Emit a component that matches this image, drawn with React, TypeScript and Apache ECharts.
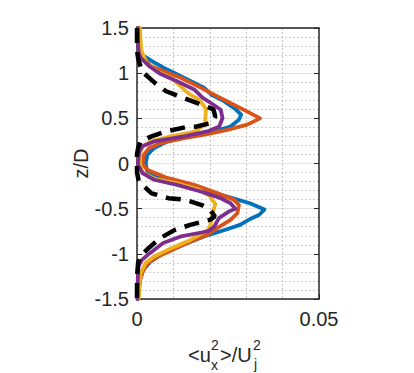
import React, { useEffect, useRef } from "react";
import * as echarts from "echarts";

// Profiles of <u_x^2>/U_j^2 (x) against z/D (y)
const blueProfile: number[][] = [
  [0.0003, 1.5], [0.0005, 1.3], [0.001, 1.21], [0.0047, 1.12], [0.0083, 1.04], [0.0129, 0.95],
  [0.0184, 0.84], [0.0205, 0.76], [0.0239, 0.69], [0.0271, 0.6], [0.0286, 0.54], [0.028, 0.485],
  [0.0257, 0.41], [0.0212, 0.355], [0.0147, 0.3], [0.0083, 0.244], [0.0047, 0.17], [0.0028, 0.096],
  [0.0024, 0], [0.0028, -0.09], [0.0047, -0.144], [0.0102, -0.217], [0.0175, -0.29], [0.0248, -0.366],
  [0.031, -0.44], [0.035, -0.51], [0.0335, -0.57], [0.0315, -0.605], [0.0283, -0.68], [0.0245, -0.73],
  [0.0182, -0.81], [0.0127, -0.9], [0.0072, -0.99], [0.0036, -1.09], [0.0017, -1.18], [0.0008, -1.29],
  [0.0004, -1.44], [0.0003, -1.5],
];
const orangeProfile: number[][] = [
  [0.0003, 1.5], [0.0005, 1.3], [0.0015, 1.18], [0.0038, 1.08], [0.0074, 1.02], [0.012, 0.95],
  [0.0175, 0.84], [0.021, 0.765], [0.0266, 0.65], [0.031, 0.56], [0.0338, 0.5], [0.0303, 0.43],
  [0.0248, 0.373], [0.0193, 0.326], [0.0129, 0.28], [0.0065, 0.226], [0.0033, 0.17], [0.0019, 0.096],
  [0.0015, 0], [0.0028, -0.07], [0.0083, -0.16], [0.0157, -0.236], [0.022, -0.328], [0.0266, -0.4],
  [0.028, -0.458], [0.0276, -0.55], [0.0257, -0.624], [0.022, -0.716], [0.0193, -0.79], [0.0155, -0.85],
  [0.0105, -0.94], [0.0058, -1.03], [0.003, -1.1], [0.0015, -1.2], [0.0008, -1.3], [0.0003, -1.5],
];
const yellowProfile: number[][] = [
  [0.0008, 1.5], [0.001, 1.35], [0.0012, 1.25], [0.0028, 1.1], [0.0056, 1.02], [0.0093, 0.95],
  [0.0129, 0.82], [0.0147, 0.76], [0.017, 0.71], [0.0189, 0.61], [0.0189, 0.56], [0.0187, 0.47],
  [0.0192, 0.45], [0.0175, 0.4], [0.0157, 0.35], [0.0093, 0.3], [0.0038, 0.244], [0.0015, 0.19],
  [0.0008, 0.1], [0.0008, 0], [0.0015, -0.1], [0.005, -0.17], [0.011, -0.22], [0.017, -0.29],
  [0.02, -0.36], [0.0215, -0.45], [0.021, -0.52], [0.0205, -0.6], [0.0202, -0.68], [0.0195, -0.735],
  [0.0147, -0.846], [0.0093, -0.94], [0.0047, -1.03], [0.0024, -1.1], [0.001, -1.215], [0.0006, -1.36],
  [0.0005, -1.5],
];
const purpleProfile: number[][] = [
  [0.0002, 1.5], [0.0003, 1.3], [0.0005, 1.22], [0.001, 1.17], [0.0033, 1.08], [0.0065, 0.99],
  [0.011, 0.91], [0.0157, 0.82], [0.018, 0.73], [0.0203, 0.67], [0.023, 0.595], [0.0235, 0.503],
  [0.0226, 0.41], [0.0193, 0.355], [0.0129, 0.3], [0.0047, 0.244], [0.0015, 0.19], [0.0006, 0.133],
  [0.0003, 0.02], [0.0003, -0.015], [0.0015, -0.106], [0.0047, -0.18], [0.011, -0.236], [0.0175, -0.31],
  [0.023, -0.384], [0.0257, -0.44], [0.027, -0.5], [0.0253, -0.53], [0.0225, -0.605], [0.0212, -0.7],
  [0.0195, -0.75], [0.0118, -0.81], [0.0072, -0.88], [0.0036, -0.99], [0.0013, -1.07], [0.0004, -1.14],
  [0.0002, -1.3], [0.0001, -1.5],
];
const blackProfile: number[][] = [
  [0, 1.5], [0, 1.25], [0.0003, 1.17], [0.0013, 1.02], [0.005, 0.89], [0.008, 0.8], [0.0118, 0.74],
  [0.0164, 0.67], [0.021, 0.6], [0.0215, 0.52], [0.0205, 0.45], [0.0164, 0.41], [0.0132, 0.4],
  [0.008, 0.355], [0.004, 0.3], [0.001, 0.25], [0.0003, 0.17], [0, 0.1], [0, -0.1], [0.0005, -0.2],
  [0.004, -0.33], [0.0086, -0.384], [0.0132, -0.4], [0.0178, -0.46], [0.02, -0.51], [0.0214, -0.585],
  [0.02, -0.624], [0.0146, -0.68], [0.0104, -0.735], [0.0063, -0.827], [0.0031, -0.94], [0.001, -1.02],
  [0.0003, -1.1], [0, -1.25], [0, -1.5],
];

const xRange = [0, 0.05];
const yRange = [-1.5, 1.5];
const xTickStep = 0.05;
const yTickStep = 0.5;

const FONT = "'Liberation Sans', Arial, Helvetica, sans-serif";
const AXIS_COLOR = "#262626";

export default function App() {
  const ref = useRef<HTMLDivElement>(null);
  useEffect(() => {
    if (!ref.current) return;
    const chart = echarts.init(ref.current, undefined, { renderer: "svg" });
    const colored = (name: string, data: number[][], color: string) => ({
      name,
      type: "line",
      data,
      showSymbol: false,
      symbol: "none",
      lineStyle: { color, width: 3.8, join: "round", cap: "round" },
      itemStyle: { color },
      z: 2,
    });
    const baseX = {
      type: "value",
      min: xRange[0],
      max: xRange[1],
      interval: xTickStep,
    };
    const baseY = {
      type: "value",
      min: yRange[0],
      max: yRange[1],
      interval: yTickStep,
    };
    chart.setOption({
      animation: false,
      grid: { left: 137, top: 28, right: 95, bottom: 74, containLabel: false },
      xAxis: [
        {
          ...baseX,
          position: "bottom",
          axisLine: { show: true, onZero: false, lineStyle: { color: AXIS_COLOR, width: 1.5 } },
          axisTick: { show: true, inside: true, length: 5, lineStyle: { color: AXIS_COLOR } },
          axisLabel: {
            show: true,
            margin: 10,
            fontSize: 20,
            fontFamily: FONT,
            color: AXIS_COLOR,
            showMinLabel: true,
            showMaxLabel: true,
            formatter: (v: number) => (Math.abs(v) < 1e-9 ? "0" : String(Number(v.toFixed(3)))),
          },
          splitLine: { show: false },
          minorTick: { show: false, splitNumber: 5 },
          minorSplitLine: { show: true, lineStyle: { color: "#c4c4c4", type: [2, 2], width: 1 } },
        },
        {
          ...baseX,
          position: "top",
          axisLine: { show: true, onZero: false, lineStyle: { color: AXIS_COLOR, width: 1.5 } },
          axisTick: { show: false },
          axisLabel: { show: false },
          splitLine: { show: false },
        },
      ],
      yAxis: [
        {
          ...baseY,
          position: "left",
          name: "z/D",
          nameLocation: "middle",
          nameGap: 44,
          nameTextStyle: { fontSize: 20, fontFamily: FONT, color: AXIS_COLOR },
          axisLine: { show: true, onZero: false, lineStyle: { color: AXIS_COLOR, width: 1.5 } },
          axisTick: { show: true, inside: true, length: 5, lineStyle: { color: AXIS_COLOR } },
          axisLabel: {
            show: true,
            margin: 8,
            fontSize: 20,
            fontFamily: FONT,
            color: AXIS_COLOR,
            showMinLabel: true,
            showMaxLabel: true,
            formatter: (v: number) => String(Number(v.toFixed(2))),
          },
          splitLine: { show: true, lineStyle: { color: "#e3e3e3", width: 1 } },
          minorTick: { show: false, splitNumber: 5 },
          minorSplitLine: { show: true, lineStyle: { color: "#cfcfcf", type: [2, 2], width: 1 } },
        },
        {
          ...baseY,
          position: "right",
          axisLine: { show: true, onZero: false, lineStyle: { color: AXIS_COLOR, width: 1.5 } },
          axisTick: { show: true, inside: true, length: 5, lineStyle: { color: AXIS_COLOR } },
          axisLabel: { show: false },
          splitLine: { show: false },
        },
      ],
      series: [
        colored("Profile 1", blueProfile, "#0072BD"),
        colored("Profile 2", orangeProfile, "#D95319"),
        colored("Profile 3", yellowProfile, "#EDB120"),
        colored("Profile 4", purpleProfile, "#7E2F8E"),
        {
          name: "Reference",
          type: "line",
          data: blackProfile,
          showSymbol: false,
          symbol: "none",
          lineStyle: { color: "#000000", width: 4.5, type: [15, 9] },
          itemStyle: { color: "#000000" },
          z: 3,
        },
      ],
      graphic: [
        { type: "text", x: 188, y: 355, style: { text: "<u", font: `20px ${FONT}`, fill: AXIS_COLOR, textAlign: "left", textVerticalAlign: "middle" } },
        { type: "text", x: 211, y: 345, style: { text: "2", font: `14px ${FONT}`, fill: AXIS_COLOR, textAlign: "left", textVerticalAlign: "middle" } },
        { type: "text", x: 211, y: 365, style: { text: "x", font: `14px ${FONT}`, fill: AXIS_COLOR, textAlign: "left", textVerticalAlign: "middle" } },
        { type: "text", x: 220, y: 355, style: { text: ">/U", font: `20px ${FONT}`, fill: AXIS_COLOR, textAlign: "left", textVerticalAlign: "middle" } },
        { type: "text", x: 253, y: 345, style: { text: "2", font: `14px ${FONT}`, fill: AXIS_COLOR, textAlign: "left", textVerticalAlign: "middle" } },
        { type: "text", x: 254, y: 364, style: { text: "j", font: `14px ${FONT}`, fill: AXIS_COLOR, textAlign: "left", textVerticalAlign: "middle" } },
      ],
    });
    return () => chart.dispose();
  }, []);
  return (
    <div
      ref={ref}
      style={{ position: "fixed", left: 0, top: 0, width: 414, height: 373, background: "#ffffff" }}
    />
  );
}
